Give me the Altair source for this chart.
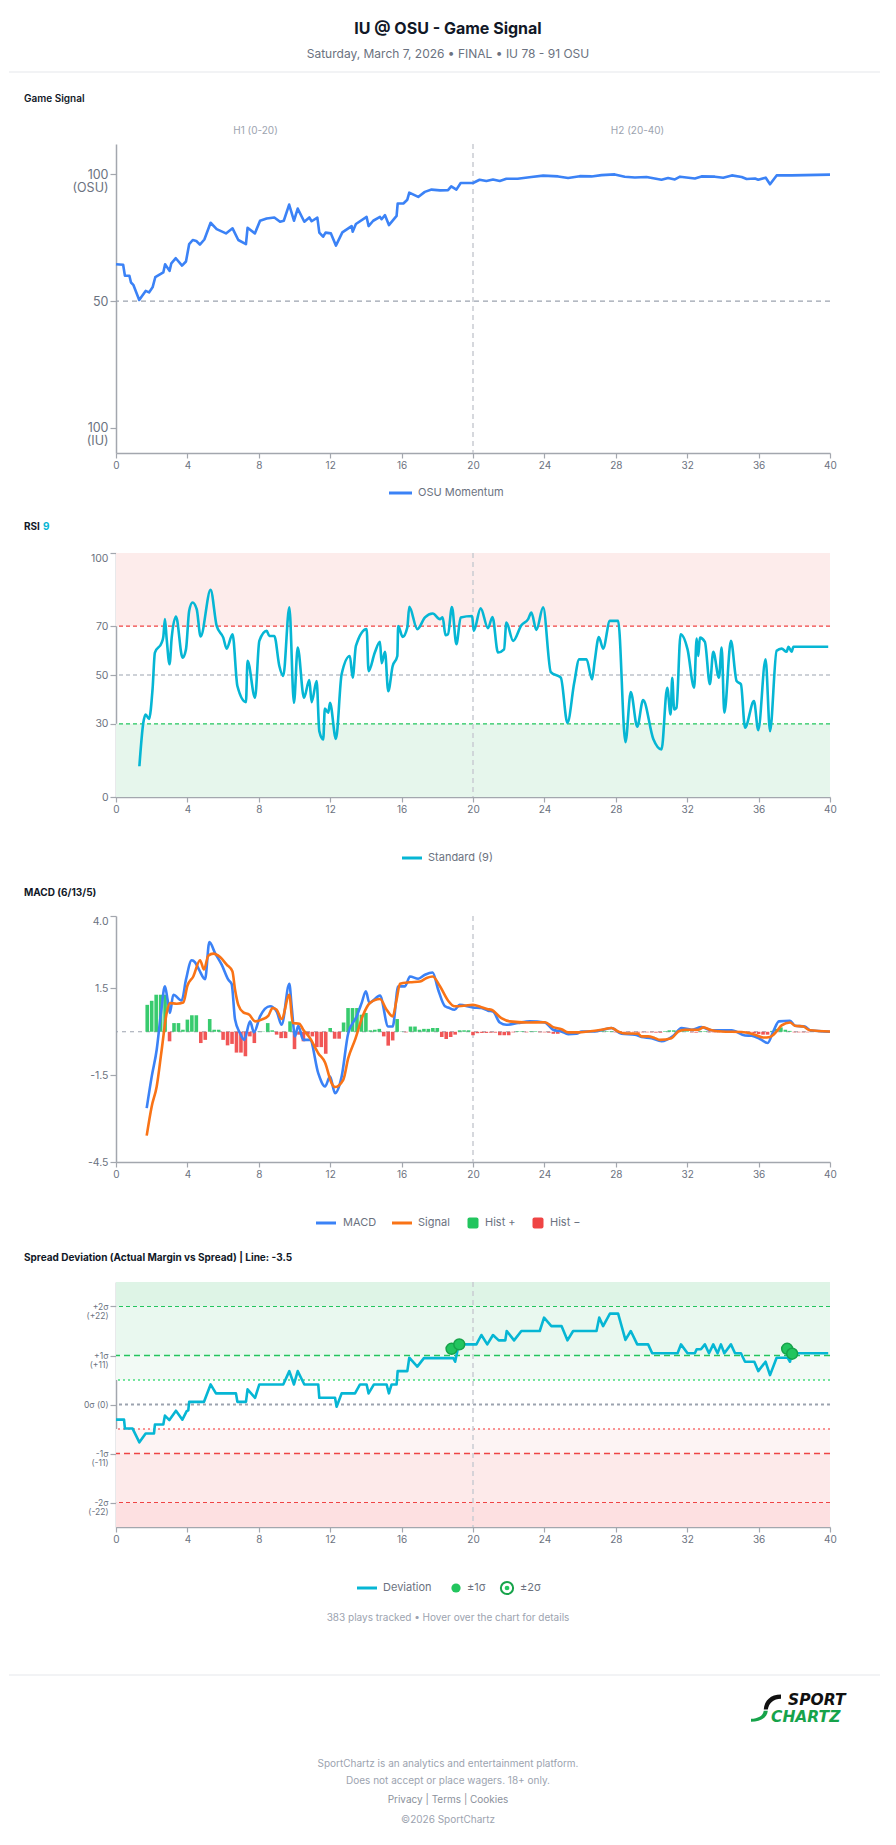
import altair as alt
import pandas as pd

FONT = "Inter"
W = 714
INK = "#111827"
MUTED = "#6b7280"
LIGHT = "#9ca3af"
AXIS = "#a3a7ae"
BLUE = "#3b82f6"
CYAN = "#06b6d4"
ORANGE = "#f97316"
GREEN = "#22c55e"
DKGREEN = "#16a34a"
RED = "#ef4444"

TITLE = "IU @ OSU - Game Signal"
SUBTITLE = "Saturday, March 7, 2026 \u2022 FINAL \u2022 IU 78 - 91 OSU"
SEC_GS = "Game Signal"
SEC_MACD = "MACD (6/13/5)"
SEC_SPREAD = "Spread Deviation (Actual Margin vs Spread) | Line: -3.5"
H1, H2 = "H1 (0-20)", "H2 (20-40)"
CAPTION = "383 plays tracked \u2022 Hover over the chart for details"
FOOTER = ["SportChartz is an analytics and entertainment platform.",
          "Does not accept or place wagers. 18+ only.",
          "Privacy  |  Terms  |  Cookies",
          "\u00a92026 SportChartz"]

X_TICKS = [0, 4, 8, 12, 16, 20, 24, 28, 32, 36, 40]
HALF = 20

# Game signal (minute, value)
GS = [(0, 64.5), (0.4, 64.3), (0.5, 60), (0.75, 60), (0.84, 57.3), (0.97, 56.4), (1.3, 50.4),
      (1.66, 54), (1.85, 53.4), (2.05, 55.4), (2.2, 59.4), (2.65, 61.3), (2.75, 64.5), (3.0, 61.9),
      (3.1, 64.9), (3.35, 66.9), (3.7, 64), (3.92, 65.6), (4.1, 72.5), (4.3, 74.1), (4.5, 73.7),
      (4.7, 72.3), (4.95, 74.3), (5.3, 80.9), (5.64, 78.4), (6.16, 76.7), (6.53, 78.7), (6.85, 74.1),
      (7.28, 72.5), (7.37, 78.9), (7.78, 76.7), (8.07, 81.7), (8.44, 82.6), (8.87, 83), (9.19, 81.3),
      (9.4, 81.7), (9.7, 88.1), (9.97, 81.7), (10.18, 86.5), (10.55, 81.3), (10.83, 83), (10.96, 81.5),
      (11.28, 82.9), (11.39, 77), (11.6, 75.4), (11.74, 77), (12.04, 76.7), (12.32, 71.9), (12.68, 77.1),
      (13.2, 79.6), (13.26, 77.4), (13.44, 80.4), (14.04, 83.2), (14.15, 79.6), (14.41, 81.7),
      (14.79, 83.2), (14.88, 82.3), (15.07, 83.9), (15.29, 80), (15.72, 83.6), (15.78, 88.5),
      (16.1, 88.5), (16.32, 90), (16.43, 92.8), (16.93, 91.1), (17.3, 93.1), (17.68, 94), (18.15, 93.7),
      (18.6, 93.8), (18.78, 95.3), (19.07, 94), (19.31, 96.6), (20.0, 96.6), (20.37, 97.9), (20.75, 97.4),
      (21.12, 98), (21.5, 97.4), (21.87, 98.3), (22.5, 98.3), (23.27, 99), (23.93, 99.5), (24.77, 99.2),
      (25.33, 98.6), (25.98, 99.3), (26.64, 99.2), (27.2, 99.7), (27.94, 100), (28.5, 99.1), (29.07, 98.8),
      (29.72, 99), (30.56, 97.9), (30.93, 98.6), (31.31, 98), (31.6, 99.1), (32.43, 98.4), (32.8, 99.2),
      (33.55, 99.1), (34.02, 98.7), (34.5, 99.6), (35.05, 99), (35.33, 98.2), (35.8, 98.4), (35.98, 97.9),
      (36.4, 98.7), (36.64, 96.1), (37.01, 99.6), (37.85, 99.6), (40.0, 99.9)]

RSI = [(1.31, 12.6), (1.53, 30.4), (1.66, 33.8), (1.85, 32), (2.05, 44.4), (2.18, 59.2), (2.56, 63.3),
       (2.65, 65.6), (2.74, 72.9), (2.84, 64.7), (3.0, 54.4), (3.12, 65.3), (3.36, 74), (3.73, 57.1),
       (3.92, 60.5), (4.1, 76.3), (4.29, 79.7), (4.52, 77), (4.74, 65.8), (5.3, 84.9), (5.64, 70.1),
       (6.01, 65.3), (6.2, 60.8), (6.53, 66.7), (6.8, 45.5), (7.28, 38.9), (7.37, 55.8), (7.79, 40.7),
       (8.03, 64), (8.44, 68.1), (8.59, 66), (8.87, 66), (9.15, 53.7), (9.37, 49.6), (9.71, 77.7),
       (9.97, 38.6), (10.18, 61.2), (10.53, 40.7), (10.83, 47.9), (10.96, 38.9), (11.24, 47.5),
       (11.39, 27), (11.61, 23.6), (11.7, 36.2), (11.89, 34.5), (11.99, 38.6), (12.32, 23.8),
       (12.64, 50.3), (13.1, 57.8), (13.26, 48.9), (13.44, 61.9), (14.04, 68.8), (14.15, 51.6),
       (14.5, 59.2), (14.79, 63.6), (14.88, 54.8), (15.07, 59.5), (15.25, 43.4), (15.5, 53.7),
       (15.76, 57.8), (15.81, 70.1), (16.06, 65.6), (16.32, 69.5), (16.43, 77.9), (16.88, 68.8),
       (17.31, 73.6), (17.74, 75.2), (18.15, 72.9), (18.3, 73.6), (18.46, 66.3), (18.6, 66.7),
       (18.82, 77.8), (19.07, 62.6), (19.31, 73.6), (19.95, 74.2), (20.04, 68.1), (20.43, 77.3),
       (20.84, 69.2), (21.09, 73.8), (21.4, 59.2), (21.74, 60.5), (21.87, 71.5), (22.25, 64),
       (22.71, 70.4), (23.09, 72.9), (23.27, 75.6), (23.55, 68.5), (23.93, 77.7), (24.36, 51.2),
       (24.92, 48.9), (25.29, 30.4), (25.67, 46.8), (25.95, 56.4), (26.36, 56.4), (26.67, 48.2),
       (26.82, 55.8), (27.05, 65.6), (27.29, 60.8), (27.67, 72.2), (28.13, 72.2), (28.54, 22.5),
       (28.84, 43), (29.2, 28.8), (29.53, 39.7), (30.1, 23.8), (30.56, 19.5), (30.88, 44.8),
       (31.07, 33.8), (31.16, 48.9), (31.27, 35.9), (31.4, 36.6), (31.63, 66.7), (32.02, 60.5),
       (32.39, 44.8), (32.53, 64.9), (32.62, 57.8), (32.71, 65.3), (32.99, 63.6), (33.27, 46.2),
       (33.46, 59.5), (33.78, 48.9), (33.93, 61.2), (34.08, 34.5), (34.45, 64), (34.77, 47.5),
       (35.01, 46.2), (35.24, 28.4), (35.74, 39.3), (35.98, 27.4), (36.39, 56.4), (36.64, 27),
       (37.01, 59.9), (37.29, 60.8), (37.57, 59.5), (37.67, 61.6), (37.85, 59.5), (37.95, 61.6),
       (39.9, 61.6)]
RSI_TICKS = [0, 30, 50, 70, 100]

MACD = [(1.72, -2.64), (2.0, -1.55), (2.28, -0.62), (2.52, 0.65), (2.74, 1.57), (2.89, 1.11), (3.02, 0.65),
        (3.21, 1.28), (3.68, 1.08), (3.92, 1.8), (4.24, 2.47), (4.43, 2.4), (4.65, 2.15), (4.99, 1.82),
        (5.23, 3.1), (5.55, 2.72), (5.92, 2.32), (6.29, 1.8), (6.48, 1.65), (6.67, 0.42), (6.95, -0.05),
        (7.19, -0.28), (7.51, 0.36), (7.73, -0.02), (8.07, 0.53), (8.63, 0.88), (9.0, 0.7), (9.28, 0.24),
        (9.71, 1.66), (9.84, 0.88), (10.03, -0.16), (10.21, 0.21), (10.49, -0.28), (10.87, -0.28),
        (11.33, -1.43), (11.71, -1.89), (11.99, -1.55), (12.27, -2.12), (12.64, -1.55), (13.01, -0.05),
        (13.48, 0.53), (13.76, 0.99), (14.0, 1.4), (14.19, 1.01), (14.79, 1.25), (15.25, 0.18),
        (15.5, 0.18), (15.81, 1.57), (16.19, 1.57), (16.47, 1.91), (16.93, 1.83), (17.31, 1.97),
        (17.74, 2.05), (18.05, 1.45), (18.43, 0.88), (18.6, 0.84), (18.97, 0.76), (19.25, 0.93),
        (20.0, 0.84), (20.47, 0.82), (20.84, 0.73), (21.12, 0.7), (21.5, 0.32), (21.87, 0.24),
        (22.52, 0.3), (23.18, 0.36), (24.02, 0.32), (24.49, 0.07), (24.96, 0.01), (25.33, -0.08),
        (25.8, -0.07), (26.08, 0.01), (26.82, 0.01), (27.76, 0.13), (28.32, -0.07), (29.07, -0.1),
        (29.44, -0.18), (30.0, -0.22), (30.56, -0.33), (31.22, -0.14), (31.68, 0.13), (32.24, 0.07),
        (32.8, 0.16), (33.37, 0.05), (34.49, 0.05), (35.24, -0.13), (35.61, -0.14), (36.08, -0.25),
        (36.51, -0.39), (36.82, 0.01), (37.14, 0.36), (37.76, 0.38), (38.04, 0.21), (38.6, 0.18),
        (38.88, 0.05), (40.0, 0.0)]

SIGNAL = [(1.72, -3.59), (2.0, -2.58), (2.28, -1.89), (2.56, -0.62), (2.84, 0.65), (3.02, 0.99),
          (3.4, 0.97), (3.77, 1.01), (4.0, 1.59), (4.33, 1.91), (4.71, 2.47), (4.93, 2.15), (5.17, 2.63),
          (5.45, 2.7), (5.83, 2.58), (6.2, 2.32), (6.52, 2.09), (6.67, 1.45), (6.85, 0.93), (7.13, 0.67),
          (7.47, 0.59), (7.79, 0.36), (8.16, 0.42), (8.53, 0.55), (8.77, 0.82), (9.0, 0.76), (9.28, 0.44),
          (9.71, 1.28), (9.9, 0.3), (10.27, 0.28), (10.49, 0.07), (10.87, -0.22), (11.33, -0.74),
          (11.71, -1.06), (12.08, -1.78), (12.27, -1.91), (12.73, -1.66), (13.01, -0.91), (13.39, -0.28),
          (13.85, 0.59), (14.22, 0.99), (14.79, 1.13), (15.16, 0.76), (15.5, 0.53), (15.72, 1.11),
          (15.91, 1.66), (16.47, 1.71), (17.03, 1.74), (17.4, 1.86), (17.74, 1.91), (18.15, 1.57),
          (18.6, 1.08), (18.97, 0.88), (19.53, 0.9), (20.0, 0.93), (20.47, 0.85), (20.84, 0.78),
          (21.03, 0.76), (21.59, 0.47), (22.06, 0.36), (23.09, 0.32), (24.02, 0.33), (24.49, 0.16),
          (24.96, 0.09), (25.33, -0.02), (25.89, -0.02), (26.45, 0.01), (27.2, 0.07), (27.76, 0.13),
          (28.13, 0.01), (28.41, -0.05), (29.25, -0.07), (29.44, -0.16), (29.81, -0.16), (30.19, -0.22),
          (30.47, -0.28), (31.12, -0.22), (31.5, 0.01), (31.87, 0.07), (32.62, 0.07), (32.9, 0.15),
          (33.37, 0.05), (33.93, 0.01), (35.05, -0.01), (35.8, -0.1), (36.27, -0.2), (36.64, -0.18),
          (37.01, 0.01), (37.29, 0.22), (37.76, 0.32), (38.04, 0.21), (38.51, 0.18), (38.88, 0.05),
          (40.0, 0.01)]

HIST = [(1.75, 0.93), (2.0, 1.07), (2.25, 1.28), (2.5, 1.28), (2.75, 1.28), (3.0, -0.33), (3.25, 0.3),
        (3.5, 0.3), (3.75, 0.07), (4.0, 0.42), (4.25, 0.57), (4.5, 0.57), (4.75, -0.39), (5.0, -0.28),
        (5.25, 0.44), (5.5, 0.07), (5.75, 0.07), (6.0, -0.28), (6.25, -0.47), (6.5, -0.42), (6.75, -0.72),
        (7.0, -0.72), (7.25, -0.85), (7.5, -0.16), (7.75, -0.39), (8.0, 0.01), (8.25, 0.01), (8.5, 0.3),
        (8.75, 0.05), (9.0, -0.1), (9.25, -0.22), (9.5, -0.22), (9.75, 0.36), (10.0, -0.6), (10.25, -0.1),
        (10.5, -0.33), (10.75, -0.1), (11.0, -0.16), (11.25, -0.53), (11.5, -0.53), (11.75, -0.76),
        (12.0, 0.13), (12.25, -0.24), (12.5, -0.24), (12.75, 0.32), (13.0, 0.82), (13.25, 0.82),
        (13.5, 0.82), (13.75, 0.59), (14.0, 0.65), (14.25, 0.05), (14.5, 0.07), (14.75, 0.1),
        (15.0, -0.16), (15.25, -0.48), (15.5, -0.3), (15.75, 0.44), (16.0, 0.01), (16.25, -0.02),
        (16.5, 0.18), (16.75, 0.18), (17.0, 0.07), (17.25, 0.1), (17.5, 0.1), (17.75, 0.13), (18.0, 0.13),
        (18.25, -0.18), (18.5, -0.25), (18.75, -0.18), (19.0, -0.1), (19.25, 0.05), (19.5, 0.05),
        (19.75, 0.05), (20.0, -0.12), (20.25, -0.05), (20.5, -0.04), (20.75, -0.04), (21.0, -0.03),
        (21.25, -0.03), (21.5, -0.12), (21.75, -0.12), (22.0, -0.12), (22.25, -0.02), (22.5, 0.02),
        (22.75, 0.02), (23.0, -0.02), (23.25, 0.02), (23.5, 0.02), (23.75, -0.02), (24.0, -0.02),
        (24.25, -0.03), (24.5, -0.07), (24.75, -0.07), (25.0, -0.03), (25.25, -0.02), (25.5, 0.02),
        (25.75, 0.02), (26.0, 0.02), (26.25, 0.02), (26.5, 0.02), (26.75, 0.02), (27.0, 0.02),
        (27.25, 0.02), (27.5, 0.02), (27.75, 0.02), (28.0, -0.02), (28.25, -0.03), (28.5, -0.03),
        (28.75, -0.02), (29.0, -0.02), (29.25, -0.03), (29.5, -0.02), (29.75, -0.02), (30.0, -0.02),
        (30.25, -0.03), (30.5, -0.03), (30.75, 0.02), (31.0, 0.05), (31.25, 0.05), (31.5, 0.04),
        (31.75, 0.02), (32.0, 0.02), (32.25, -0.02), (32.5, -0.03), (32.75, 0.02), (33.0, 0.02),
        (33.25, -0.02), (33.5, -0.02), (33.75, -0.02), (34.0, 0.02), (34.25, 0.02), (34.5, 0.02),
        (34.75, -0.02), (35.0, -0.02), (35.25, -0.03), (35.5, -0.03), (35.75, -0.05), (36.0, -0.08),
        (36.25, -0.1), (36.5, -0.1), (36.75, 0.03), (37.0, 0.1), (37.25, 0.15), (37.5, 0.07),
        (37.75, 0.03), (38.0, -0.02), (38.25, -0.02), (38.5, -0.02), (38.75, -0.02), (39.0, 0.01),
        (39.25, 0.01), (39.5, 0.01), (39.75, 0.0)]
MACD_TICKS = [-4.5, -1.5, 1.5, 4.0]

DEV = [(0, -3.4), (0.45, -3.4), (0.5, -5.4), (0.93, -5.4), (1.31, -8.5), (1.66, -6.5), (2.13, -6.5),
       (2.18, -4.5), (2.65, -4.5), (2.74, -2.5), (2.99, -3.5), (3.36, -1.4), (3.72, -3.4), (3.96, -1.5),
       (4.05, -1.3), (4.1, 0.6), (4.93, 0.6), (5.3, 4.5), (5.6, 2.5), (6.72, 2.5), (6.8, 0.6), (7.28, 0.6),
       (7.37, 3.4), (7.79, 1.5), (8.03, 4.5), (9.37, 4.5), (9.71, 7.5), (9.97, 4.5), (10.18, 7.5),
       (10.55, 4.5), (11.33, 4.5), (11.39, 1.5), (12.27, 1.5), (12.36, -0.5), (12.64, 2.5), (13.39, 2.5),
       (13.67, 4.5), (14.04, 4.5), (14.15, 2.5), (14.45, 4.5), (15.16, 4.5), (15.29, 2.5), (15.44, 4.5),
       (15.72, 4.5), (15.78, 7.5), (16.32, 7.5), (16.43, 10.5), (16.88, 8.5), (17.25, 10.4), (18.9, 10.4),
       (19.0, 9.6), (19.2, 13.5), (20.19, 13.5), (20.47, 15.6), (20.8, 13.5), (21.12, 15.6), (21.44, 14.4),
       (21.81, 14.4), (21.89, 16.5), (22.3, 14.4), (22.71, 16.5), (23.74, 16.5), (23.98, 19.5),
       (24.39, 17.6), (24.96, 17.6), (25.29, 14.4), (25.61, 16.5), (26.92, 16.5), (27.07, 19.5),
       (27.29, 17.6), (27.67, 20.4), (28.13, 20.4), (28.54, 14.5), (28.84, 16.5), (29.2, 13.5),
       (29.81, 13.5), (30.04, 11.5), (31.46, 11.5), (31.65, 13.5), (32.02, 11.5), (32.43, 11.5),
       (32.53, 12.4), (32.77, 12.4), (32.99, 13.5), (33.22, 11.5), (33.46, 13.5), (33.7, 11.5),
       (33.89, 13.5), (34.08, 11.5), (34.45, 13.5), (34.68, 11.5), (35.01, 11.5), (35.24, 9.6),
       (35.76, 9.6), (35.98, 7.5), (36.39, 9.6), (36.64, 6.6), (37.01, 10.5), (37.63, 10.5),
       (37.76, 9.6), (37.85, 11.5), (39.9, 11.5)]
SIGMA1_PTS = [(18.8, 12.5), (19.23, 13.5), (37.6, 12.5), (37.88, 11.4)]
SPREAD_TICKS = [-22, -11, 0, 11, 22]


def df(pairs):
    return pd.DataFrame(pairs, columns=["t", "v"])


def X():
    return alt.X("t:Q", scale=alt.Scale(domain=[0, 40], nice=False, zero=False, padding=0),
                 axis=alt.Axis(values=X_TICKS, title=None, labelFlush=False))


def top_baseline(v):
    return {"condition": {"test": "datum.value == %s" % v, "value": "top"}, "value": "middle"}


def T(s, x, y, size=10, color=MUTED, weight="normal", align="left", style="normal", font=FONT):
    return alt.Chart(pd.DataFrame({"s": [s]})).mark_text(
        align=align, baseline="middle", font=font, fontSize=size, fontWeight=weight,
        fontStyle=style, color=color).encode(x=alt.value(x), y=alt.value(y), text="s:N")


def R(x1, x2, y, color, width=1.0, dash=None, opacity=1.0):
    kw = dict(color=color, strokeWidth=width, opacity=opacity)
    if dash:
        kw["strokeDash"] = dash
    return alt.Chart(pd.DataFrame({"a": [0]})).mark_rule(**kw).encode(
        x=alt.value(x1), x2=alt.value(x2), y=alt.value(y))


def SQ(xc, yc, s, color):
    return alt.Chart(pd.DataFrame({"a": [0]})).mark_rect(color=color, cornerRadius=2).encode(
        x=alt.value(xc - s / 2), x2=alt.value(xc + s / 2), y=alt.value(yc - s / 2), y2=alt.value(yc + s / 2))


def PT(xc, yc, size, color, filled=True, shape="circle", sw=0):
    return alt.Chart(pd.DataFrame({"a": [0]})).mark_point(
        shape=shape, filled=filled, size=size, color=color, opacity=1, strokeWidth=sw).encode(
        x=alt.value(xc), y=alt.value(yc))


def half_rule():
    return alt.Chart(pd.DataFrame({"t": [HALF]})).mark_rule(
        color="#c9ccd2", strokeDash=[5, 4], strokeWidth=1.5).encode(x=X())


# ---------- Header cell ----------
cellA = alt.layer(
    R(-116, -115, 0, "#ffffff", 1, opacity=0),
    R(-107, 764, 72, "#e5e7eb", 1),
    T(TITLE, 332, 29, 16, INK, "bold", "center"),
    T(SUBTITLE, 332, 54, 12, MUTED, "normal", "center"),
    T(SEC_GS, -92, 99, 10, INK, 600),
    T(H1, 139.5, 131, 10, LIGHT, "normal", "center"),
    T(H2, 521.5, 131, 10, LIGHT, "normal", "center"),
).properties(width=W, height=144)

# ---------- Game signal ----------
GS_DOM = [-10, 112]
GS_EXPR = "datum.value == 100 ? ['100', '(OSU)'] : datum.value == 0 ? ['100', '(IU)'] : '50'"


def Ygs():
    return alt.Y("v:Q", scale=alt.Scale(domain=GS_DOM, nice=False, zero=False),
                 axis=alt.Axis(values=[0, 50, 100], title=None, labelExpr=GS_EXPR, labelFontSize=12.5,
                               labelLineHeight=13, tickSize=6, labelOverlap=False))


cellB = alt.layer(
    alt.Chart(pd.DataFrame({"v": [50]})).mark_rule(color=LIGHT, strokeDash=[5, 4], strokeWidth=1.2).encode(y=Ygs()),
    half_rule(),
    alt.Chart(df(GS)).mark_line(color=BLUE, strokeWidth=2.6, strokeJoin="round").encode(x=X(), y=Ygs()),
).properties(width=W, height=309)

cellC = alt.layer(
    R(273, 296, 40, BLUE, 3),
    T("OSU Momentum", 302, 40, 11, MUTED),
    T("RSI", -92, 74, 10, INK, "bold"),
    T("9", -73, 74, 10, CYAN, "bold"),
).properties(width=W, height=100)

# ---------- RSI ----------


def Yrsi(field="v"):
    return alt.Y(field + ":Q", scale=alt.Scale(domain=[0, 100], nice=False, zero=False),
                 axis=alt.Axis(values=RSI_TICKS, title=None, tickSize=6, labelFontSize=10.5,
                               labelOverlap=False, labelBaseline=top_baseline(100)))


rsi_bands = pd.DataFrame({"t": [0, 0], "t2": [40, 40], "v": [70, 0], "v2": [100, 30],
                          "zone": ["over", "under"]})
cellD = alt.layer(
    alt.Chart(rsi_bands).mark_rect().encode(
        x=X(), x2="t2:Q", y=Yrsi(), y2="v2:Q",
        color=alt.Color("zone:N", scale=alt.Scale(domain=["over", "under"], range=["#fdeceb", "#e6f6ec"]),
                        legend=None)),
    alt.Chart(pd.DataFrame({"v": [70]})).mark_rule(color=RED, strokeDash=[4, 3], strokeWidth=1.2).encode(y=Yrsi()),
    alt.Chart(pd.DataFrame({"v": [50]})).mark_rule(color=LIGHT, strokeDash=[4, 3], strokeWidth=1.2).encode(y=Yrsi()),
    alt.Chart(pd.DataFrame({"v": [30]})).mark_rule(color=GREEN, strokeDash=[4, 3], strokeWidth=1.2).encode(y=Yrsi()),
    half_rule(),
    alt.Chart(df(RSI)).mark_line(color=CYAN, strokeWidth=2.6, interpolate="monotone", strokeJoin="round").encode(
        x=X(), y=Yrsi()),
).properties(width=W, height=244)

cellE = alt.layer(
    R(286, 306, 61, CYAN, 3),
    T("Standard (9)", 312, 61, 11, MUTED),
    T(SEC_MACD, -92, 96, 10, INK, "bold"),
).properties(width=W, height=119)

# ---------- MACD ----------
MACD_EXPR = ("datum.value == 4 ? '4.0' : (datum.value < 0 ? '-' + format(-datum.value, '.1f') "
             ": format(datum.value, '.1f'))")


def Ymacd():
    return alt.Y("v:Q", scale=alt.Scale(domain=[-4.5, 4.0], nice=False, zero=False),
                 axis=alt.Axis(values=MACD_TICKS, title=None, tickSize=6, labelFontSize=10.5,
                               labelExpr=MACD_EXPR, labelOverlap=False, labelBaseline=top_baseline(4)))


hist_df = df(HIST)
hist_df["z"] = 0.0
cellF = alt.layer(
    alt.Chart(pd.DataFrame({"v": [0]})).mark_rule(color=LIGHT, strokeDash=[4, 4], strokeWidth=1).encode(y=Ymacd()),
    half_rule(),
    alt.Chart(hist_df).mark_bar(size=3.6, opacity=0.9).encode(
        x=X(), y=Ymacd(), y2="z:Q",
        color=alt.condition("datum.v >= 0", alt.value(GREEN), alt.value(RED))),
    alt.Chart(df(MACD)).mark_line(color=BLUE, strokeWidth=2.6, interpolate="monotone").encode(x=X(), y=Ymacd()),
    alt.Chart(df(SIGNAL)).mark_line(color=ORANGE, strokeWidth=2.6, interpolate="monotone").encode(x=X(), y=Ymacd()),
).properties(width=W, height=246)

cellG = alt.layer(
    R(200, 220, 61, BLUE, 3),
    T("MACD", 227, 61, 11, MUTED),
    R(276, 296, 61, ORANGE, 3),
    T("Signal", 302, 61, 11, MUTED),
    SQ(357, 61, 11, GREEN),
    T("Hist +", 369, 61, 11, MUTED),
    SQ(422, 61, 11, RED),
    T("Hist \u2212", 434, 61, 11, MUTED),
    T(SEC_SPREAD, -92, 96, 10, INK, "bold"),
).properties(width=W, height=120)

# ---------- Spread deviation ----------
SP_EXPR = ("datum.value == 22 ? ['+2\u03c3', '(+22)'] : datum.value == 11 ? ['+1\u03c3', '(+11)'] : "
           "datum.value == 0 ? '0\u03c3 (0)' : datum.value == -11 ? ['-1\u03c3', '(-11)'] : ['-2\u03c3', '(-22)']")


def Ysp():
    return alt.Y("v:Q", scale=alt.Scale(domain=[-27.5, 27.5], nice=False, zero=False),
                 axis=alt.Axis(values=SPREAD_TICKS, title=None, tickSize=6, labelFontSize=8.5,
                               labelLineHeight=9, labelExpr=SP_EXPR, labelOverlap=False))


sp_bands = pd.DataFrame({
    "t": [0] * 6, "t2": [40] * 6,
    "v": [22, 11, 5.5, -11, -22, -27.5],
    "v2": [27.5, 22, 11, -5.5, -11, -22],
    "zone": ["g3", "g2", "g1", "r1", "r2", "r3"]})
ZONE_COLORS = ["#def4e6", "#e9f8ef", "#f2faf5", "#fdf4f4", "#fdeaea", "#fde0e1"]


def hl(v, color, dash, width):
    return alt.Chart(pd.DataFrame({"v": [v]})).mark_rule(color=color, strokeDash=dash, strokeWidth=width).encode(y=Ysp())


cellH = alt.layer(
    alt.Chart(sp_bands).mark_rect().encode(
        x=X(), x2="t2:Q", y=Ysp(), y2="v2:Q",
        color=alt.Color("zone:N", scale=alt.Scale(domain=["g3", "g2", "g1", "r1", "r2", "r3"], range=ZONE_COLORS),
                        legend=None)),
    hl(22, GREEN, [4, 3], 1),
    hl(11, GREEN, [6, 4], 1.5),
    hl(5.5, "#4ade80", [2, 3], 1.5),
    hl(0, LIGHT, [3, 3], 1.8),
    hl(-5.5, "#f87171", [2, 3], 1.5),
    hl(-11, RED, [6, 4], 1.5),
    hl(-22, RED, [4, 3], 1),
    half_rule(),
    alt.Chart(df(DEV)).mark_line(color=CYAN, strokeWidth=2.6, strokeJoin="round").encode(x=X(), y=Ysp()),
    alt.Chart(df(SIGMA1_PTS)).mark_circle(size=120, color=GREEN, stroke=DKGREEN, strokeWidth=1.5, opacity=1).encode(
        x=X(), y=Ysp()),
).properties(width=W, height=245)

# ---------- Footer cell ----------
BLACK_SWOOSH = "M 1 -0.9 C 0.3 -0.9 -0.1 -0.5 -0.15 0.1 L 0.12 0.1 C 0.2 -0.35 0.5 -0.6 1 -0.62 Z"
GREEN_SWOOSH = "M -0.15 0.18 L 0.12 0.18 C 0.08 0.65 -0.35 0.9 -1 0.92 L -1 0.72 C -0.55 0.7 -0.2 0.55 -0.15 0.18 Z"

cellI = alt.layer(
    R(241, 261, 61, CYAN, 3),
    T("Deviation", 267, 61, 11, MUTED),
    PT(340, 61, 85, GREEN),
    T("\u00b11\u03c3", 351, 61, 11, MUTED),
    PT(391, 61, 150, DKGREEN, filled=False, sw=2),
    PT(391, 61, 22, GREEN),
    T("\u00b12\u03c3", 404, 61, 11, MUTED),
    T(CAPTION, 332, 91, 10, LIGHT, "normal", "center"),
    R(-107, 764, 148, "#e5e7eb", 1),
    PT(650, 181, 900, "#111111", shape=BLACK_SWOOSH),
    PT(650, 181, 900, DKGREEN, shape=GREEN_SWOOSH),
    T("SPORT", 672, 173, 15.5, "#111111", "bold", "left", "italic", "DejaVu Sans"),
    T("CHARTZ", 655, 189.5, 15.5, DKGREEN, "bold", "left", "italic", "DejaVu Sans"),
    T(FOOTER[0], 332, 237, 10, LIGHT, "normal", "center"),
    T(FOOTER[1], 332, 253.5, 10, LIGHT, "normal", "center"),
    T(FOOTER[2], 332, 273, 10, "#8b919b", "normal", "center"),
    T(FOOTER[3], 332, 293, 10, LIGHT, "normal", "center"),
).properties(width=W, height=318)

chart = alt.vconcat(
    cellA, cellB, cellC, cellD, cellE, cellF, cellG, cellH, cellI,
    spacing=0, bounds="flush",
).resolve_scale(
    x="independent", y="independent", color="independent"
).properties(
    padding={"left": 0, "top": 0, "right": 0, "bottom": 0}, background="white"
).configure_view(
    strokeWidth=0
).configure_axis(
    domainColor=AXIS, domainWidth=1.5, tickColor=AXIS, tickWidth=1.2, tickSize=5,
    labelColor=MUTED, labelFont=FONT, labelFontSize=10, labelPadding=2, grid=False
)

chart.save("out.html", embed_options={"renderer": "svg", "actions": False})
